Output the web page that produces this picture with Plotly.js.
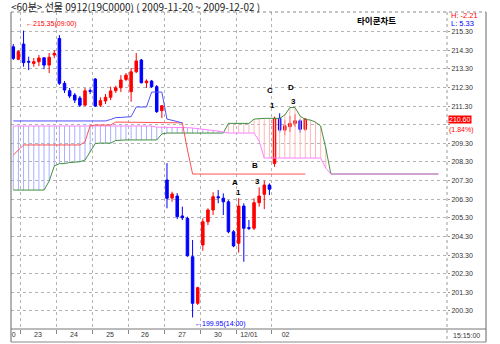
<!DOCTYPE html>
<html>
<head>
<meta charset="utf-8">
<script src="https://cdn.plot.ly/plotly-3.0.1.min.js"></script>
<style>html,body{margin:0;padding:0;background:#fff;}#chart{width:500px;height:344px;}</style>
</head>
<body>
<div id="chart"></div>
<script>
// ---- 60-minute candles, 2009-11-20 14:00 .. 2009-12-02 15:00 ----
const openP = [214.48,213.81,214.63,213.70,213.59,213.68,213.89,213.50,214.04,214.93,
  212.52,212.12,211.89,211.73,211.35,212.12,212.75,211.35,211.57,211.77,
  212.12,212.28,212.73,212.07,213.14,213.77,212.55,212.64,212.34,211.05,
  207.33,206.36,206.47,205.40,205.27,203.21,200.71,203.84,205.09,205.72,
  206.43,206.35,206.16,204.55,203.93,205.93,204.77,204.74,206.11,206.56,
  207.06,208.22,210.64,210.01,210.19,210.37,210.51,210.05];
const highP = [214.63,214.30,215.35,213.95,213.88,214.04,213.92,214.15,214.30,215.11,
  212.64,212.27,212.00,211.84,212.27,212.25,212.80,211.77,211.95,212.34,
  212.39,212.96,213.07,213.34,214.15,213.83,212.73,212.70,212.43,211.35,
  208.24,206.70,206.63,205.90,205.36,204.11,201.60,205.27,205.81,206.67,
  206.79,206.61,206.25,204.64,206.35,206.08,205.18,206.35,206.94,207.29,
  207.15,210.73,210.91,210.55,210.76,210.86,210.59,210.66];
const lowP = [213.77,213.77,213.41,213.23,213.41,213.45,213.28,213.07,213.88,212.43,
  212.00,211.73,211.46,211.25,211.30,211.95,211.25,211.25,211.41,211.62,
  212.01,212.05,212.64,211.53,213.07,212.52,212.27,212.27,210.93,210.66,
  205.81,206.16,205.23,205.18,203.21,199.95,200.62,203.53,204.91,205.45,
  206.08,205.45,204.47,203.72,203.43,202.94,204.64,204.64,205.90,205.77,
  206.52,208.04,209.87,209.74,209.90,210.19,209.87,209.96];
const closeP = [213.86,214.22,213.63,213.66,213.68,213.88,213.50,213.92,214.13,212.52,
  212.16,211.84,211.62,211.35,212.12,212.10,211.30,211.59,211.77,212.11,
  212.28,212.70,212.96,213.14,213.72,212.55,212.64,212.34,211.00,211.32,
  206.35,206.58,205.36,205.30,203.26,200.71,201.55,205.09,205.72,206.43,
  206.38,206.16,204.55,203.79,205.93,204.74,204.74,206.11,206.47,207.06,
  206.83,210.64,210.01,210.24,210.37,210.51,210.05,210.60];

// ---- Ichimoku-style lines (values per bar index) ----
const blueLine = [210.50,210.50,210.50,210.50,210.50,210.50,210.50,210.50,210.50,210.50,
  210.50,210.50,210.50,210.50,210.50,210.50,210.50,210.50,210.50,210.58,
  210.68,210.69,210.71,210.73,211.25,211.25,211.25,212.05,212.05,212.05,
  210.60,210.55,210.47,210.39];
const redLine = [208.67,208.94,209.21,209.21,209.21,209.21,209.21,209.21,209.21,209.21,
  209.21,209.21,209.21,209.21,209.38,210.24,210.28,210.28,210.28,210.28,
  210.44,210.44,210.44,210.44,210.44,210.44,210.44,210.44,210.44,210.44,
  210.44,210.44,210.44,210.40,208.94,207.65,207.65,207.65,207.65,207.65,
  207.65,207.65,207.65,207.65,207.65,207.65,207.65,207.65,207.65,207.65,
  207.65,207.65,207.65,207.65,207.65,207.65,207.65,207.65];
const spanA = [206.79,206.79,206.79,206.79,206.79,206.79,206.79,207.27,208.08,208.21,
  208.21,208.27,208.31,208.31,208.40,208.83,209.29,209.31,209.31,209.31,
  209.45,209.48,209.48,209.48,209.48,209.48,209.48,209.48,209.48,209.80,
  209.85,209.85,209.85,209.85,209.85,209.85,209.85,209.85,209.85,209.85,
  209.85,209.85,210.37,210.37,210.37,210.37,210.37,210.60,210.64,210.64,
  210.64,210.64,210.64,210.82,211.22,211.22,210.76,210.58,210.55,210.44,
  210.23,209.05,207.65,207.65,207.65,207.65,207.65,207.65,207.65,207.65,
  207.65,207.65,207.65,207.65,207.65,207.65,207.65,207.65,207.65,207.65,
  207.65,207.65,207.65,207.65];
const spanB = [210.23,210.23,210.23,210.23,210.23,210.23,210.23,210.23,210.23,210.23,
  210.23,210.23,210.23,210.23,210.23,210.23,210.23,210.23,210.23,210.23,
  210.23,210.23,210.23,210.23,210.23,210.23,210.23,210.23,210.17,210.17,
  210.17,210.17,210.17,210.17,210.14,210.12,210.08,210.05,210.01,209.99,
  209.96,209.90,209.85,209.85,209.85,209.85,209.85,209.85,209.42,208.51,
  208.51,208.51,208.51,208.51,208.51,208.51,208.51,208.51,208.51,208.51,
  208.51,207.97,207.65,207.65,207.65,207.65,207.65,207.65,207.65,207.65,
  207.65,207.65,207.65,207.65,207.65,207.65,207.65,207.65,207.65,207.65,
  207.65,207.65,207.65,207.65];

// ---- axis labels ----
const dayLabels = ['0','23','24','25','26','27','30','12/01','02'];
const dayLabelPos = [0.1,4.8,11.85,18.9,25.7,32.95,39.95,46.0,53.15];
const dayBounds = [1.5,8.5,15.5,22.5,29.5,36.5,43.5,50.5];
const priceTicks = [200.3,201.3,202.3,203.3,204.3,205.3,206.3,207.3,208.3,209.3,210.3,211.3,212.3,213.3,214.3,215.3];
// 210.30 label is hidden behind the current-price marker in the source
const priceTickText = ['200.30','201.30','202.30','203.30','204.30','205.30','206.30','207.30','208.30','209.30','','211.30','212.30','213.30','214.30','215.30'];

const lastPrice = 210.60, lastPctText = '(1.84%)';
const hiText = 'H: -2.21', loText = 'L: 5.33';

const barX = openP.map((_, i) => i);
const spanX = spanA.map((_, i) => i);

// cloud hatching built from span arrays
const hbX = [], hbY = [], hpX = [], hpY = [];
for (let i = 0; i < spanA.length; i++) {
  if (spanB[i] >= spanA[i]) { hbX.push(i, i, null); hbY.push(spanA[i], spanB[i], null); }
  else { hpX.push(i, i, null); hpY.push(spanA[i], spanB[i], null); }
}

const traces = [
  {type:'scatter', mode:'lines', x:hbX, y:hbY, line:{color:'#aab0ff', width:1}, hoverinfo:'skip'},
  {type:'scatter', mode:'lines', x:hpX, y:hpY, line:{color:'#ffb8b8', width:1}, hoverinfo:'skip'},
  {type:'scatter', mode:'lines', x:spanX, y:spanA, line:{color:'#3f8f3f', width:1}, hoverinfo:'skip'},
  {type:'scatter', mode:'lines', x:spanX, y:spanB, line:{color:'#ff80ff', width:1}, hoverinfo:'skip'},
  {type:'scatter', mode:'lines', x:redLine.map((_, i) => i), y:redLine, line:{color:'#ff5050', width:1}, hoverinfo:'skip'},
  {type:'scatter', mode:'lines', x:blueLine.map((_, i) => i), y:blueLine, line:{color:'#5050ff', width:1}, hoverinfo:'skip'},
  {type:'candlestick', x:barX, open:openP, high:highP, low:lowP, close:closeP,
   increasing:{line:{color:'#ff0000', width:1}, fillcolor:'#ff0000'},
   decreasing:{line:{color:'#0000ff', width:1}, fillcolor:'#0000ff'},
   whiskerwidth:0, hoverinfo:'skip'}
];

const X = px => (px - 11) / 436;
const Y = py => (329 - py) / 317;
const bx = (px) => (px - 13.3) / 5.122;

const frame = [
  [11,12,11,342,'solid','#666'],
  [486,12,486,342,'solid','#666'],
  [11,12,486,12,'dot','#888'],
  [11,342,486,342,'solid','#888'],
  [447,12,447,342,'dot','#999'],
  [11,329,486,329,'solid','#777']
].map(s => ({type:'line', xref:'paper', yref:'paper', x0:X(s[0]), y0:Y(s[1]), x1:X(s[2]), y1:Y(s[3]),
  line:{color:s[5], width:1, dash:s[4]}}));

const lab = (t, x, y) => ({text:'<b>'+t+'</b>', x:bx(x), y:y, xref:'x', yref:'y', showarrow:false,
  font:{family:'Liberation Sans, Arial', size:8, color:'#000'}, xanchor:'center', yanchor:'middle'});

const annotations = [
  {text:'<b>타이쿤차트</b>', xref:'paper', yref:'paper', x:X(376), y:Y(20), showarrow:false,
   font:{family:'Noto Sans CJK KR', size:8.5, color:'#000'}, xanchor:'center', yanchor:'middle'},
  {text:hiText, xref:'paper', yref:'paper', x:X(449), y:Y(15.5), showarrow:false, xanchor:'left', yanchor:'middle',
   font:{family:'Liberation Sans', size:7.5, color:'#ff0000'}},
  {text:loText, xref:'paper', yref:'paper', x:X(449), y:Y(23.5), showarrow:false, xanchor:'left', yanchor:'middle',
   font:{family:'Liberation Sans', size:7.5, color:'#0000ff'}},
  {text:lastPrice.toFixed(2), xref:'paper', yref:'y', x:X(447.5), y:lastPrice, showarrow:false, xanchor:'left', yanchor:'middle',
   bgcolor:'#ff0000', borderpad:0, font:{family:'Liberation Sans', size:7, color:'#fff'}},
  {text:lastPctText, xref:'paper', yref:'paper', x:X(448), y:Y(129.5), showarrow:false, xanchor:'left', yanchor:'middle',
   borderpad:0, font:{family:'Liberation Sans', size:7, color:'#ff0000'}},
  {text:'15:15:00', xref:'paper', yref:'paper', x:X(466), y:Y(335.5), showarrow:false, xanchor:'center', yanchor:'middle',
   font:{family:'Liberation Sans', size:7, color:'#333'}},
  {text:'←215.35(09:00)', xref:'x', yref:'y', x:2.1, y:215.73, showarrow:false, xanchor:'left', yanchor:'middle',
   font:{family:'Liberation Sans', size:7, color:'#ff0000'}},
  {text:'←199.95(14:00)', xref:'x', yref:'y', x:35.0, y:199.60, showarrow:false, xanchor:'left', yanchor:'middle',
   font:{family:'Liberation Sans', size:7, color:'#0000ff'}},
  lab('A',235,207.22), lab('1',238.5,206.66), lab('3',257,207.27), lab('B',255,208.13),
  lab('C',270,212.11), lab('1',272.5,211.35), lab('D',291,212.32), lab('3',293,211.57)
];

const layout = {
  width:500, height:344,
  margin:{l:11, r:53, t:12, b:15, pad:0},
  paper_bgcolor:'#ffffff', plot_bgcolor:'#ffffff',
  showlegend:false,
  font:{family:'Liberation Sans, Arial, sans-serif', size:7, color:'#333'},
  title:{text:'&lt;60분&gt; 선물 0912(19C0000) ( 2009-11-20 ~ 2009-12-02 )',
    x:11/500, xanchor:'left', xref:'container', y:1-7.5/344, yanchor:'middle', yref:'container',
    pad:{t:0, b:0, l:0, r:0},
    font:{family:'Noto Sans CJK KR', size:10, color:'#222'}},
  xaxis:{range:[-0.45, 84.67], tickmode:'array', tickvals:dayLabelPos, ticktext:dayLabels,
    ticks:'', showgrid:false, zeroline:false, showline:false, fixedrange:true,
    tickfont:{family:'Liberation Sans', size:7, color:'#333'},
    rangeslider:{visible:false},
    minor:{tickmode:'array', tickvals:dayBounds, ticks:'outside', ticklen:4, tickcolor:'#888',
      showgrid:true, gridcolor:'#b4b4b4', griddash:'dot', gridwidth:1}},
  yaxis:{side:'right', range:[199.33, 216.35], tickmode:'array', tickvals:priceTicks, ticktext:priceTickText,
    ticks:'outside', ticklen:2, tickcolor:'#999', showgrid:true, gridcolor:'#b4b4b4', griddash:'dot',
    zeroline:false, showline:false, fixedrange:true,
    tickfont:{family:'Liberation Sans', size:7, color:'#333'}},
  shapes:frame,
  annotations:annotations
};

Plotly.newPlot('chart', traces, layout, {staticPlot:true, displayModeBar:false});
</script>
</body>
</html>
